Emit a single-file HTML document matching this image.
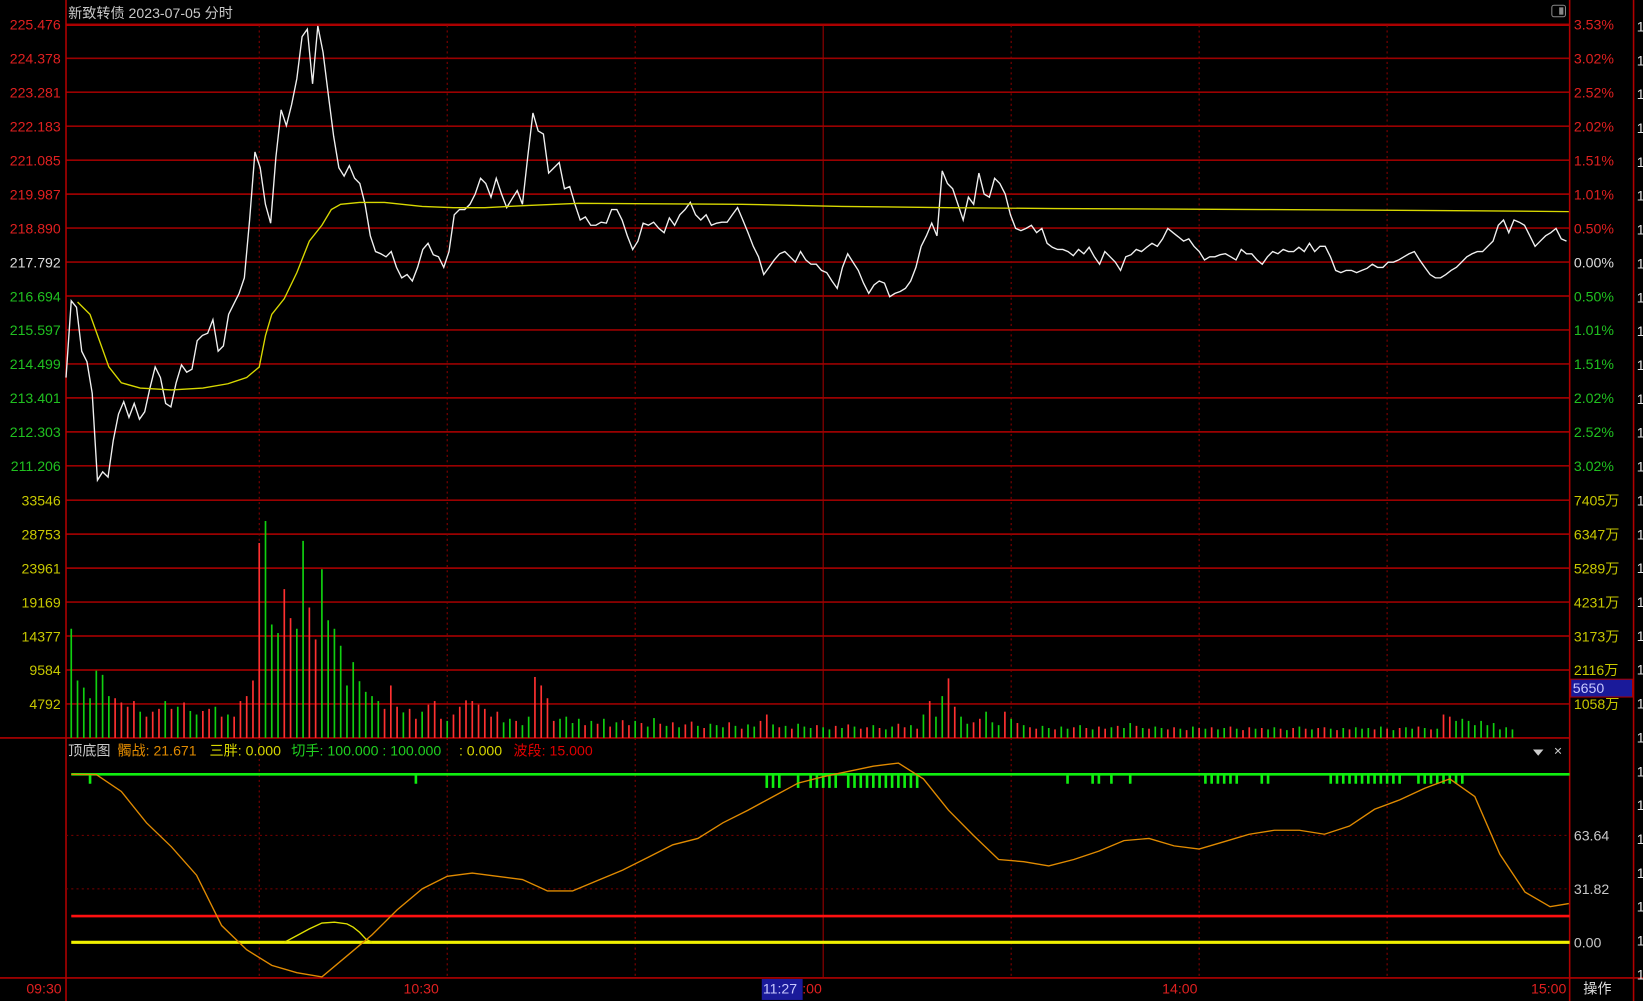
<!DOCTYPE html>
<html><head><meta charset="utf-8"><style>
html,body{margin:0;padding:0;background:#000;overflow:hidden}
svg{display:block}
text{font-family:"Liberation Sans","Noto Sans CJK SC",sans-serif;font-size:13.5px}
</style></head><body>
<svg id="chart" width="1643" height="1001" viewBox="0 0 1568 955" preserveAspectRatio="none" xmlns="http://www.w3.org/2000/svg">
<rect x="0" y="0" width="1568" height="955" fill="#000"/>
<g id="grid"></g>
<g id="vol"></g>
<g id="price"></g>
<g id="ind"></g>
<g id="labels"></g>
<text x="65" y="17" fill="#c8c8c8">新致转债  2023-07-05 分时</text>
<rect x="1481" y="5" width="13" height="11" rx="2" fill="none" stroke="#888"/>
<rect x="1488" y="7" width="4" height="7" fill="#888"/>
<text x="65" y="721" fill="#c8c8c8">顶底图</text>
<text x="112" y="721" fill="#e08a00">髑战: 21.671</text>
<text x="200" y="721" fill="#d8d800">三胖: 0.000</text>
<text x="278" y="721" fill="#20d020">切手: 100.000 : 100.000</text>
<text x="438" y="721" fill="#d8d800">: 0.000</text>
<text x="490" y="721" fill="#e00000">波段: 15.000</text>
<path d="M1463 715 L1473 715 L1468 721 Z" fill="#ccc"/>
<text x="1483" y="721" fill="#ccc">×</text>
<rect x="727" y="934" width="39" height="20" fill="#1a1a9a"/>
<text x="728" y="948" fill="#c8c8ff">11:27</text>
<rect x="1499" y="648" width="59" height="17" fill="#1a1a9a" stroke="#a00"/>
<text x="1501" y="661" fill="#c8c8ff">5650</text>
<text x="1511" y="948" fill="#ddd">操作</text>
</svg>
<script>
const priceVals=[214.06,216.54,216.33,214.91,214.57,213.55,210.74,211.01,210.84,212.03,212.88,213.28,212.77,213.22,212.71,212.95,213.72,214.40,214.06,213.22,213.11,213.89,214.47,214.23,214.33,215.25,215.42,215.49,215.93,214.91,215.08,216.10,216.44,216.78,217.28,219.15,221.35,220.84,219.66,219.05,221.18,222.71,222.20,222.88,223.72,225.08,225.32,223.55,225.42,224.57,223.21,221.86,220.84,220.57,220.91,220.50,220.33,219.66,218.64,218.13,218.06,217.96,218.13,217.62,217.28,217.39,217.18,217.62,218.20,218.40,218.03,217.96,217.62,218.13,219.32,219.49,219.49,219.66,219.99,220.50,220.33,219.89,220.50,219.99,219.55,219.83,220.10,219.66,221.18,222.61,222.03,221.93,220.67,220.84,221.01,220.16,220.23,219.66,219.15,219.25,218.98,218.98,219.08,219.05,219.49,219.49,219.15,218.64,218.20,218.47,219.05,218.98,219.08,218.88,218.74,219.22,218.98,219.32,219.49,219.72,219.32,219.15,219.32,218.98,219.05,219.08,219.08,219.32,219.55,219.15,218.74,218.30,217.96,217.39,217.62,217.86,218.06,218.13,217.96,217.79,218.13,217.86,217.72,217.72,217.52,217.45,217.18,216.94,217.62,218.06,217.79,217.52,217.11,216.78,217.05,217.18,217.11,216.67,216.78,216.84,216.94,217.18,217.62,218.30,218.64,219.05,218.64,220.74,220.33,220.16,219.66,219.15,219.89,219.66,220.67,219.99,219.89,220.50,220.33,219.99,219.32,218.88,218.81,218.88,218.98,218.74,218.88,218.40,218.27,218.20,218.20,218.13,218.00,218.20,218.06,218.27,217.96,217.72,218.13,217.96,217.79,217.52,217.96,218.03,218.20,218.13,218.27,218.40,218.30,218.54,218.88,218.74,218.61,218.47,218.54,218.30,218.13,217.86,217.96,217.96,218.03,218.06,217.96,217.86,218.20,218.06,218.06,217.86,217.72,217.96,218.13,218.06,218.20,218.13,218.13,218.27,218.13,218.40,218.13,218.30,218.30,217.96,217.52,217.45,217.52,217.52,217.45,217.52,217.59,217.72,217.62,217.62,217.79,217.79,217.86,217.96,218.06,218.13,217.86,217.62,217.39,217.28,217.28,217.39,217.52,217.62,217.79,217.96,218.06,218.13,218.13,218.30,218.47,218.98,219.15,218.74,219.15,219.08,218.98,218.64,218.30,218.47,218.64,218.74,218.88,218.54,218.47];
const avgMinutes=[1,3,4.5,6,8,11,16,21,25,28,30,31,32,34,36,38,40,41.5,43,46,50,56,61,66,73,81,107,123,140,157,190,224,239];
const avgVals=[216.50,216.10,215.25,214.40,213.89,213.72,213.66,213.72,213.86,214.06,214.40,215.42,216.10,216.61,217.45,218.47,218.98,219.49,219.66,219.72,219.72,219.59,219.55,219.55,219.62,219.69,219.66,219.59,219.55,219.52,219.49,219.45,219.42];
const volVals=[15400,8100,7100,5600,9500,8900,5900,5600,5000,4400,5200,3700,3000,3700,4100,5200,4100,4400,5000,3800,3300,3800,4100,4400,3000,3300,3000,5200,5900,8100,27500,30600,16000,14800,21000,16900,15400,27800,18400,13900,23800,16600,15400,13000,7400,10700,8000,6500,5900,5200,4100,7400,4400,3600,4100,2700,3700,4700,5200,2700,2400,3300,4400,5300,5200,4700,4100,3000,3700,2200,2700,2400,1800,3000,8600,7400,5600,2400,2700,3000,2100,2700,1800,2400,2000,2700,1600,2200,2500,1800,2400,2100,1600,2800,2000,1700,2200,1500,1900,2300,1700,1400,2000,1800,1500,2200,1700,1300,1900,1600,2400,3300,1900,1500,1700,1300,2000,1600,1400,1800,1500,1200,1700,1400,1900,1600,1300,1500,1800,1400,1200,1600,2000,1500,1800,1300,3300,5200,3000,5900,8400,4400,3000,2000,2200,2700,3700,2200,1800,3700,2700,2100,1800,1500,1300,1700,1400,1200,1600,1300,1500,1800,1400,1200,1600,1300,1500,1700,1400,2100,1700,1400,1300,1600,1400,1200,1500,1300,1100,1600,1400,1300,1500,1200,1400,1600,1300,1100,1500,1300,1400,1200,1500,1300,1100,1400,1600,1300,1200,1400,1500,1300,1100,1400,1200,1500,1300,1400,1200,1600,1300,1100,1400,1500,1300,1600,1400,1200,1300,3300,3000,2400,2700,2400,1800,2400,1800,2100,1200,1500,1200];
const volDirs="gggggggrrrrgrrrgrgrggrrgrgrrrrrgggrrggrrggggggggggrrrgrrgrrrgrrrrrrrrggrggrrrrggggrgrgrgrrgrggrgrgrrgrgggrgrggrrgrgrgggrggrgrgrrgrggrrgrgrggrrggrrgggrgrgrrggrggrgrgrrgrggrgrggrrgrgrgrggrgrrgrggrgrgrgrrgrgrgggrgrgrggrgrgrrgggggggg";
const pctTicks=["3.53%","3.02%","2.52%","2.02%","1.51%","1.01%","0.50%","0.00%","0.50%","1.01%","1.51%","2.02%","2.52%","3.02%"];
const priceTicks=[225.476,224.378,223.281,222.183,221.085,219.987,218.890,217.792,216.694,215.597,214.499,213.401,212.303,211.206];
const volTicks=[33546,28753,23961,19169,14377,9584,4792];
const volTickWan=["7405万","6347万","5289万","4231万","3173万","2116万","1058万"];
const indVals=[100,99.8,89.8,71.1,56.8,39.9,10.0,-4.4,-13.7,-18.1,-20.6,-8.1,4.4,19.3,31.8,39.3,41.2,39.3,37.4,30.6,30.6,36.8,43.0,50.5,58.0,61.8,71.1,78.6,86.7,94.8,98.6,101.7,104.8,106.7,97.3,78.6,63.6,49.3,48.0,45.5,49.3,54.3,60.5,61.8,57.4,55.5,59.9,64.3,66.7,66.7,64.3,69.2,79.2,84.8,91.7,97.3,86.7,52.4,29.9,21.2,23.1];
const bumpMinutes=[34,36,38,40,42,44,45,46,47,48];
const bumpVals=[0,4,8,11.5,12,11,9,6,2,0];
const signalMinutes=[3,55,111,112,113,116,118,119,120,121,122,124,125,126,127,128,129,130,131,132,133,134,135,159,163,164,166,169,181,182,183,184,185,186,190,191,201,202,203,204,205,206,207,208,209,210,211,212,215,216,217,218,219,220,221,222];
const indTicks=[63.64,31.82,0.00];
const timeMinutes=[0,60,120,180,240];
const timeLabels=["09:30","10:30",":00","14:00","15:00"];

const NS="http://www.w3.org/2000/svg";
function mk(p,tag,attrs){const e=document.createElementNS(NS,tag);for(const k in attrs)e.setAttribute(k,attrs[k]);p.appendChild(e);return e;}
const X0=68,DX=5.98,PL=63,PR=1498;
const xMin=m=>X0+m*DX;
const yPrice=v=>250-(v-217.792)/1.0977*32.4;
const yVol=v=>704-v/4792*32.4;
const yInd=v=>899-v*(51/31.82);
const G=id=>document.getElementById(id);
const gridG=G('grid'),labG=G('labels');
priceTicks.forEach((t,i)=>{const y=yPrice(t);
 const ln=mk(gridG,'line',{x1:PL,x2:PR,y1:y,y2:y,stroke:'#9a0000','stroke-width':1.6});
 
 
 const c=i<7?'#e02020':(i===7?'#dddddd':'#20c020');
 const tx=mk(labG,'text',{x:58,y:y+5,fill:c,'text-anchor':'end'});tx.textContent=t.toFixed(3);
 
 
 const tp=mk(labG,'text',{x:1502,y:y+5,fill:c});tp.textContent=pctTicks[i];
 
 
});
volTicks.forEach((t,i)=>{const y=yVol(t);
 const ln=mk(gridG,'line',{x1:PL,x2:PR,y1:y,y2:y,stroke:'#9a0000','stroke-width':1.6});
 
 
 const tx=mk(labG,'text',{x:58,y:y+5,fill:'#c8c800','text-anchor':'end'});tx.textContent=t;
 
 
 const tw=mk(labG,'text',{x:1502,y:y+5,fill:'#c8c800'});tw.textContent=volTickWan[i];
 
 
});
[[PL,0,PL,955],[PR,0,PR,955],[1559,0,1559,955],[0,704,1498,704],[0,933,1568,933],[PL,24,PR,24]].forEach(a=>{
 const ln=mk(gridG,'line',{x1:a[0],y1:a[1],x2:a[2],y2:a[3],stroke:'#b00000','stroke-width':1.5});
 
 });
[30,60,90,120,150,180,210].forEach(m=>{const x=xMin(m);
 const ln=mk(gridG,'line',{x1:x,x2:x,y1:24,y2:933,stroke:m===120?'#a00000':'#8a0000','stroke-width':1,'stroke-dasharray':m===120?'none':'2,3'});
 
 });
[63.64,31.82].forEach(v=>{const y=yInd(v);
 const ln=mk(gridG,'line',{x1:PL,x2:PR,y1:y,y2:y,stroke:'#7a0000','stroke-width':1,'stroke-dasharray':'2,3'});
 
 });
indTicks.forEach(v=>{const t=mk(labG,'text',{x:1502,y:yInd(v)+5,fill:'#c8c8c8'});t.textContent=v.toFixed(2);
 
 });
const timeX=[42,402,775,1126,1478];
timeMinutes.forEach((m,i)=>{
 const t=mk(labG,'text',{x:timeX[i],y:948,fill:'#e02020','text-anchor':'middle'});t.textContent=timeLabels[i];
 
 });
for(let y=30;y<955;y+=32.3){const t=mk(labG,'text',{x:1562,y:y,fill:'#ddd'});t.textContent='1';
 
 }
const vg=G('vol');
volVals.forEach((v,i)=>{const x=xMin(i);const d=volDirs[i]||'g';
 const b=mk(vg,'line',{x1:x,x2:x,y1:704,y2:yVol(v),stroke:d==='r'?'#ff3030':'#10d010','stroke-width':1.6});
 
 });
const pg=G('price');const nP=priceVals.length;const stepP=(1495-63)/(nP-1);
const pp=priceVals.map((v,i)=>(63+i*stepP).toFixed(1)+','+yPrice(v).toFixed(1)).join(' ');
const pl=mk(pg,'polyline',{points:pp,fill:'none',stroke:'#f0f0f0','stroke-width':1.3});


const ap=avgVals.map((v,i)=>xMin(avgMinutes[i]).toFixed(1)+','+yPrice(v).toFixed(1)).join(' ');
const al=mk(pg,'polyline',{points:ap,fill:'none',stroke:'#d8d800','stroke-width':1.3});


const ig=G('ind');
const topLine=mk(ig,'line',{x1:68,x2:PR,y1:yInd(100),y2:yInd(100),stroke:'#10ee10','stroke-width':2.5});


signalMinutes.forEach(m=>{const x=xMin(m);
 const s=mk(ig,'line',{x1:x,x2:x,y1:yInd(100),y2:yInd(100)+(m>100&&m<140?13:9),stroke:'#10ee10','stroke-width':2.5});
 
 });
const redLine=mk(ig,'line',{x1:68,x2:PR,y1:yInd(15.6),y2:yInd(15.6),stroke:'#ff1010','stroke-width':2.5});


const yelLine=mk(ig,'line',{x1:68,x2:PR,y1:yInd(0),y2:yInd(0),stroke:'#f0f000','stroke-width':3});


const bp=bumpVals.map((v,i)=>xMin(bumpMinutes[i]).toFixed(1)+','+yInd(v).toFixed(1)).join(' ');
const bl=mk(ig,'polyline',{points:bp,fill:'none',stroke:'#e0e000','stroke-width':1.3});


const ip=indVals.map((v,i)=>xMin(Math.min(i*4,239)).toFixed(1)+','+yInd(v).toFixed(1)).join(' ');
const il=mk(ig,'polyline',{points:ip,fill:'none',stroke:'#e08a00','stroke-width':1.3});


</script>
</body></html>
